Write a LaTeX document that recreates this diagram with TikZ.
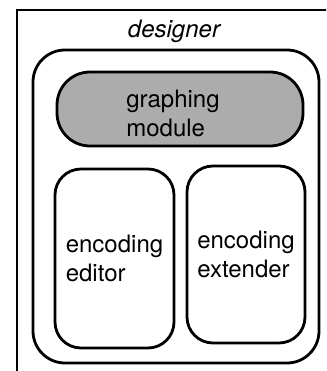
\documentclass[tikz,border=0pt]{standalone}
\usepackage{fontspec}
\setmainfont{TeX Gyre Heros}
\definecolor{modulegray}{RGB}{172, 172, 172}
\usepackage{tikz}
\usetikzlibrary{positioning, calc}

\begin{document}
\begin{tikzpicture}[x=1pt, y=-1pt, line width=2.8pt, every node/.style={font=\fontsize{24}{29}\selectfont}]
    \clip (0,0) rectangle (326,371);
    \fill [white] (0,0) rectangle (326,371);

    % outer frame, runs off the page on the right and at the bottom
    \draw (17,10) rectangle (345,395);
    \node [anchor=base] (title) at (174,38) {\itshape designer};

    \node [draw, rectangle, rounded corners=32pt, minimum width=286pt, minimum height=313pt, inner sep=0pt] (designer) at (176,206.5) {};

    \node [draw, rectangle, fill=modulegray, rounded corners=33pt, minimum width=246pt, minimum height=74pt, inner sep=0pt] (graphing) at (180,109) {};
    \node [align=left, inner sep=0pt] (graphinglbl) at (173,113) {graphing\\module};

    \node [draw, rectangle, rounded corners=26pt, minimum width=119pt, minimum height=179pt, inner sep=0pt, align=left] (editor) at (114.5,258.5) {encoding\\editor};
    \node [draw, rectangle, rounded corners=26pt, minimum width=118pt, minimum height=177pt, inner sep=0pt, align=left] (extender) at (246,254.5) {encoding\\extender};
\end{tikzpicture}
\end{document}
